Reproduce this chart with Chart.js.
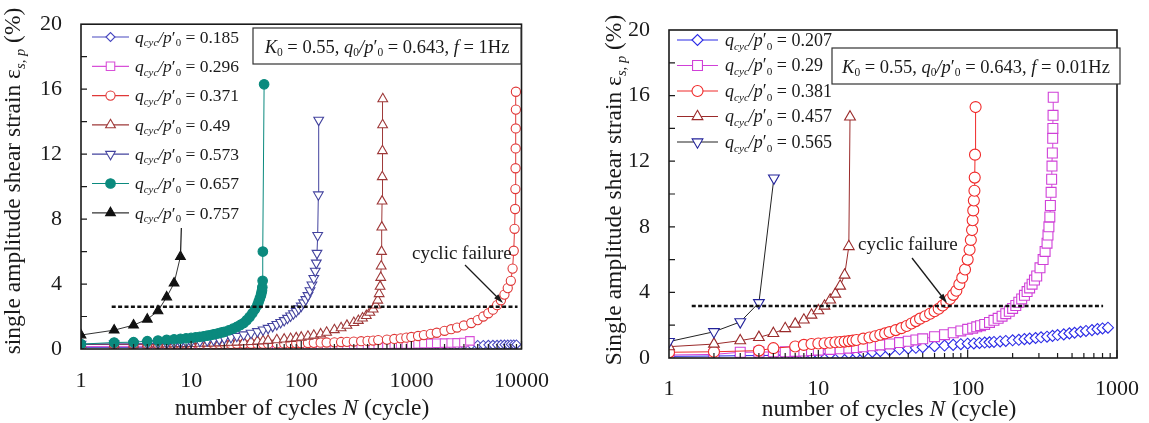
<!DOCTYPE html>
<html>
<head>
<meta charset="utf-8">
<script src="https://cdn.jsdelivr.net/npm/chart.js@4.4.0/dist/chart.umd.min.js"></script>
<style>
html, body { margin: 0; padding: 0; background: #fff; }
#wrapA { position: absolute; left: 0; top: 0; width: 560px; height: 423px; }
#wrapB { position: absolute; left: 580px; top: 0; width: 569px; height: 423px; }
</style>
</head>
<body>
<div id="wrapA"><canvas id="chartA"></canvas></div>
<div id="wrapB"><canvas id="chartB"></canvas></div>
<script>
// tick labels
var ticksXA = [1, 10, 100, 1000, 10000];
var ticksXB = [1, 10, 100, 1000];
var ticksY = [0, 4, 8, 12, 16, 20];

// left panel, f = 1 Hz : q_cyc/p'0 values
var ratiosA = ["0.185", "0.296", "0.371", "0.49", "0.573", "0.657", "0.757"];

var nA185 = [1,2,3,4,5,6,7,8,9,10,12,14,16,18,20,23,26,30,35,40,45,50,60,70,80,90,100,115,130,150,170,200,230,260,300,350,400,450,500,600,700,800,900,1000,1150,1300,1500,1700,2000,2300,2600,3000,3500,4000,4500,5000,5500,6000,6500,7000,7500,8000,8500,9000];
var eA185 = [0.10,0.10,0.10,0.11,0.11,0.11,0.11,0.12,0.12,0.12,
  0.12,0.12,0.13,0.13,0.13,0.13,0.14,0.14,0.14,0.14,0.15,0.15,
  0.15,0.15,0.16,0.16,0.16,0.16,0.17,0.17,0.17,0.18,0.18,0.18,0.19,0.19,0.19,0.2,0.2,
  0.2,0.21,0.21,0.21,0.22,0.22,0.22,0.23,0.23,0.23,0.24,0.24,0.24,0.25,0.25,0.25,0.26,0.26,0.26,0.27,0.27,0.27,0.28,0.28,0.28];

var nA296 = [1,2,3,4,5,6,7,8,9,10,12,14,16,18,20,23,26,30,35,40,45,50,60,70,80,90,100,115,130,150,170,200,230,260,300,350,400,450,500,600,700,800,900,1000,1150,1300,1500,1700,2000,2300,2600,3000,3400];
var eA296 = [0.15,0.16,0.16,0.17,0.17,0.17,0.18,0.18,0.18,0.18,
  0.19,0.19,0.19,0.2,0.2,0.2,0.2,0.21,0.21,0.21,0.21,0.22,
  0.22,0.22,0.23,0.23,0.23,0.24,0.24,0.24,0.25,0.25,0.26,0.26,0.27,0.27,0.28,0.28,0.29,
  0.29,0.3,0.3,0.31,0.31,0.32,0.33,0.34,0.35,0.36,0.37,0.38,0.4,0.5];

var nA371 = [1,2,3,4,5,6,7,8,9,10,12,14,16,18,20,23,26,30,35,40,45,50,60,70,80,90,100,115,130,150,170,200,230,260,300,350,400,450,500,600,700,800,900,1000,1150,1300,1500,1700,2000,2300,2600,3000,3500,4000,4500,5000,5500,6000,6500,7000,7500,8000,8300,8500,8650,8750,8800,8830,8850,8870,8890,8900];
var eA371 = [0.28,0.28,0.28,0.29,0.29,0.29,0.29,0.3,0.3,0.3,
  0.3,0.3,0.31,0.31,0.31,0.31,0.32,0.32,0.32,0.33,0.33,0.33,
  0.34,0.34,0.35,0.35,0.36,0.37,0.38,0.39,0.4,0.41,0.43,0.44,0.46,0.48,0.5,0.52,0.55,
  0.58,0.62,0.66,0.7,0.74,0.8,0.86,0.93,1.0,1.12,1.22,1.32,1.45,1.6,1.78,2.0,2.2,2.42,2.7,3.0,3.35,3.75,4.2,
  4.95,6.05,7.4,8.62,9.85,11.13,12.35,13.58,14.74,15.84];

var nA49 = [1,2,3,4,5,6,7,8,9,10,12,14,16,18,20,23,26,30,35,40,45,50,60,70,80,90,100,115,130,150,170,200,230,260,300,330,360,390,420,450,475,495,510,520,527,532,536,539,542,544,546,548,550];
var eA49 = [0.28,0.29,0.29,0.3,0.3,0.31,0.31,0.32,0.32,0.33,
  0.34,0.35,0.36,0.37,0.38,0.4,0.41,0.43,0.45,0.48,0.5,0.52,
  0.56,0.6,0.64,0.68,0.72,0.78,0.84,0.92,1.02,1.18,1.3,1.45,1.62,
  1.75,1.9,2.05,2.25,2.45,2.7,3.0,3.4,3.85,4.4,5.1,6.0,7.5,9.1,10.6,12.2,13.8,15.4];

var nA573 = [1,2,3,4,5,6,7,8,9,10,12,14,16,18,20,23,26,30,35,40,45,50,55,60,65,70,75,80,85,90,95,100,105,110,115,120,125,130,134,137,139,141,143,144];
var eA573 = [0.3,0.31,0.32,0.33,0.35,0.36,0.38,0.4,0.42,0.44,
  0.48,0.52,0.56,0.6,0.65,0.72,0.79,0.88,0.98,1.08,1.18,1.28,
  1.4,1.52,1.64,1.76,1.9,2.04,2.18,2.32,2.48,2.65,2.85,3.05,3.3,3.6,3.95,4.35,4.8,5.3,5.9,7.0,9.5,14.1];

var nA657 = [1,2,3,4,5,6,7,8,9,10,11,12,13,14,15,16,17,18,19,20,22,24,26,28,30,32,34,36,38,40,41,42,43,43.5,44,44.3,44.6,44.8,46];
var eA657 = [0.3,0.4,0.42,0.48,0.52,0.56,0.6,0.63,0.66,0.68,
  0.72,0.75,0.78,0.82,0.86,0.9,0.94,0.98,1.02,1.06,
  1.15,1.25,1.36,1.48,1.6,1.78,1.98,2.2,2.45,2.7,
  2.9,3.1,3.3,3.45,3.6,3.8,4.2,6.0,16.3];

var nA757 = [1,2,3,4,5,6,7,8];
var eA757 = [0.86,1.16,1.47,1.83,2.34,3.2,4.05,5.69];

// pointer from the 0.757 label down to its last point
var nPtrA = [8.15, 8];
var ePtrA = [7.45, 5.69];

// cyclic failure line, left
var nFailA = [1.9, 9200];
var eFailA = [2.6, 2.6];

// right panel, f = 0.01 Hz
var ratiosB = ["0.207", "0.29", "0.381", "0.457", "0.565"];

var nB207 = [1,2,3,4,5,6,7,8,9,10,12,14,16,18,20,23,26,30,35,40,45,50,60,70,80,90,
  100,110,120,130,140,150,165,180,200,220,240,260,285,310,340,370,400,440,480,520,570,620,680,740,800,870];
var eB207 = [0.1,0.12,0.14,0.15,0.16,0.17,0.18,0.2,0.22,0.23,
  0.25,0.27,0.29,0.31,0.33,0.37,0.42,0.48,0.53,0.58,0.62,0.66,
  0.72,0.76,0.8,0.84,
  0.87,0.89,0.92,0.94,0.96,0.98,1.01,1.04,1.08,1.11,1.15,1.18,1.22,1.26,1.3,1.35,1.4,1.44,1.5,1.54,1.6,1.65,1.7,1.76,1.8,1.85];

var nB29 = [1,2,3,4,5,6,7,8,9,10,12,14,16,18,20,23,26,30,35,40,45,50,60,70,80,90,
  100,108,115,122,130,140,150,160,170,180,190,200,210,220,230,240,250,260,270,280,290,
  305,320,330,340,345,350,355,358,362,365,367,369,371,372,373,374];
var eB29 = [0.18,0.22,0.35,0.36,0.37,0.38,0.4,0.42,0.45,0.48,
  0.52,0.56,0.6,0.64,0.68,0.74,0.8,0.86,0.94,1.02,1.1,1.17,
  1.3,1.42,1.54,1.65,
  1.75,1.82,1.9,1.97,2.05,2.17,2.3,2.42,2.55,2.7,2.85,3.02,3.2,3.4,3.6,3.82,4.05,4.27,4.5,4.75,5.0,
  5.5,6.0,6.5,7.0,7.5,8.0,8.6,9.3,10.1,10.9,11.7,12.5,13.4,14.0,14.8,15.9];

var nB381 = [1,2,4,5,7,8,9,10,11,12,13,14,15,16,17,18,20,22,24,26,28,30,33,36,39,42,45,48,52,56,60,64,68,72,76,80,84,88,92,96,100,103,105,107,108,109,110,111,111.5,112,113];
var eB381 = [0.35,0.38,0.45,0.6,0.7,0.8,0.85,0.88,
  0.9,0.93,0.96,0.98,1.0,1.03,1.06,1.1,
  1.18,1.25,1.33,1.42,1.5,1.58,
  1.7,1.82,1.95,2.1,2.25,2.4,
  2.55,2.7,2.85,3.0,3.2,3.4,3.6,3.85,4.1,4.5,4.9,5.4,6.0,
  6.6,7.2,7.8,8.4,9.0,9.6,10.2,11.0,12.4,15.3];

var nB457 = [1,2,3,4,5,6,7,8,9,10,11,12,13,14,15,16,16.3];
var eB457 = [0.69,0.85,1.06,1.26,1.5,1.8,2.07,2.32,2.62,2.89,3.17,3.54,3.9,4.39,5.06,6.8,14.7];

var nB565 = [1,2,3,4,5.04];
var eB565 = [1.0,1.6,2.2,3.37,10.97];

var nFailB = [1.42, 807];
var eFailB = [3.17, 3.17];

var serif = '"Liberation Serif", "Times New Roman", serif';

// rich text: parts with italic / subscript flags
var fontFor = function(p, size) {
    var s = p.sub ? size * 0.62 : size;
    return (p.i ? "italic " : "") + s + "px " + serif;
};
var richWidth = function(ctx, parts, size) {
    var w = 0;
    parts.forEach(function(p) {
        ctx.font = fontFor(p, size);
        w += ctx.measureText(p.t).width;
    });
    return w;
};
var drawRich = function(ctx, parts, x, y, size, align) {
    ctx.save();
    ctx.textAlign = "left";
    ctx.textBaseline = "alphabetic";
    ctx.fillStyle = "#1a1a1a";
    var cx = align === "center" ? x - richWidth(ctx, parts, size) / 2 : x;
    parts.forEach(function(p) {
        ctx.font = fontFor(p, size);
        ctx.fillText(p.t, cx, y + (p.sub ? size * 0.2 : 0));
        cx += ctx.measureText(p.t).width;
    });
    ctx.restore();
};

var ratioText = function(v) {
    return [{t: "q", i: 1}, {t: "cyc", i: 1, sub: 1}, {t: "/", i: 1}, {t: "p", i: 1},
        {t: "\u2032"}, {t: "0", sub: 1}, {t: " = " + v}];
};
var infoText = function(freq) {
    return [{t: "K", i: 1}, {t: "0", sub: 1}, {t: " = 0.55, "}, {t: "q", i: 1}, {t: "0", sub: 1},
        {t: "/", i: 1}, {t: "p", i: 1}, {t: "\u2032"}, {t: "0", sub: 1}, {t: " = 0.643, "},
        {t: "f", i: 1}, {t: " = " + freq + "Hz"}];
};

var arrow = function(ctx, x0, y0, x1, y1) {
    var ang = Math.atan2(y1 - y0, x1 - x0);
    ctx.beginPath();
    ctx.moveTo(x0, y0);
    ctx.lineTo(x1 - 6 * Math.cos(ang), y1 - 6 * Math.sin(ang));
    ctx.stroke();
    ctx.beginPath();
    ctx.moveTo(x1, y1);
    ctx.lineTo(x1 - 10 * Math.cos(ang - 0.3), y1 - 10 * Math.sin(ang - 0.3));
    ctx.lineTo(x1 - 10 * Math.cos(ang + 0.3), y1 - 10 * Math.sin(ang + 0.3));
    ctx.closePath();
    ctx.fill();
};

var decoPlugin = {
    id: "deco",
    afterDraw: function(chart, args, o) {
        var ctx = chart.ctx, a = chart.chartArea;
        var xs = chart.scales.x, ys = chart.scales.y;
        ctx.save();
        ctx.strokeStyle = "#1a1a1a";
        ctx.fillStyle = "#1a1a1a";

        // inward ticks
        ctx.lineWidth = 1.2;
        ctx.beginPath();
        for (var v = 2; v < 20; v += 2) {
            var py = ys.getPixelForValue(v);
            ctx.moveTo(a.left, py);
            ctx.lineTo(a.left + 6, py);
        }
        for (var d = 1; d < o.xMax; d *= 10) {
            for (var k = 2; k <= 10; k++) {
                var px = xs.getPixelForValue(d * k);
                ctx.moveTo(px, a.bottom);
                ctx.lineTo(px, a.bottom - (k === 10 ? 8 : 5));
            }
        }
        ctx.stroke();

        // frame
        ctx.lineWidth = 1.6;
        ctx.strokeRect(a.left, a.top, a.right - a.left, a.bottom - a.top);

        // legend
        chart.data.datasets.forEach(function(ds, i) {
            if (!ds.qLabel) return;
            var y = o.legY + i * o.legDy;
            ctx.strokeStyle = ds.borderColor;
            ctx.lineWidth = 1.2;
            ctx.beginPath();
            ctx.moveTo(o.legX0, y);
            ctx.lineTo(o.legX1, y);
            ctx.stroke();
            ctx.strokeStyle = ds.pointBorderColor;
            ctx.fillStyle = ds.pointBackgroundColor;
            ctx.lineWidth = ds.pointBorderWidth;
            Chart.helpers.drawPoint(ctx, {pointStyle: ds.pointStyle, rotation: ds.pointRotation,
                radius: ds.pointRadius, borderWidth: ds.pointBorderWidth}, (o.legX0 + o.legX1) / 2, y);
            drawRich(ctx, ratioText(ds.qLabel), o.legText, y + o.legSize * 0.33, o.legSize);
        });

        // info box
        ctx.fillStyle = "#fff";
        ctx.fillRect(o.box[0], o.box[1], o.box[2], o.box[3]);
        ctx.strokeStyle = "#333";
        ctx.lineWidth = 1.2;
        ctx.strokeRect(o.box[0], o.box[1], o.box[2], o.box[3]);
        drawRich(ctx, infoText(o.freq), o.box[0] + o.box[2] / 2, o.box[1] + o.box[3] / 2 + 6.5, 18.5, "center");

        // cyclic failure note
        ctx.font = "19px " + serif;
        ctx.fillStyle = "#1a1a1a";
        ctx.fillText("cyclic failure", o.failText[0], o.failText[1]);
        ctx.strokeStyle = "#1a1a1a";
        ctx.lineWidth = 1.3;
        arrow(ctx, o.arrow[0], o.arrow[1], o.arrow[2], o.arrow[3]);

        // pointer line
        if (o.ptr) {
            ctx.lineWidth = 1.2;
            ctx.beginPath();
            ctx.moveTo(xs.getPixelForValue(o.ptr.n[0]), ys.getPixelForValue(o.ptr.e[0]));
            ctx.lineTo(xs.getPixelForValue(o.ptr.n[1]), ys.getPixelForValue(o.ptr.e[1]));
            ctx.stroke();
        }

        // axis titles
        drawRich(ctx, [{t: "number of cycles "}, {t: "N", i: 1}, {t: " (cycle)"}], o.xTitle[0], o.xTitle[1], 23.5, "center");
        ctx.save();
        ctx.translate(o.yTitle[0], o.yTitle[1]);
        ctx.rotate(-Math.PI / 2);
        drawRich(ctx, [{t: o.yWord + " amplitude shear strain \u03b5"}, {t: "s, p", i: 1, sub: 1}, {t: " (%)"}], 0, 0, 23.5, "center");
        ctx.restore();

        ctx.restore();
    }
};

var pts = function(n, e) {
    return n.map(function(v, i) { return {x: v, y: e[i]}; });
};

var series = function(label, n, e, st) {
    return {
        qLabel: label,
        data: pts(n, e),
        showLine: true,
        borderColor: st.line || st.color,
        borderWidth: 1,
        pointStyle: st.shape,
        pointRotation: st.rot || 0,
        pointRadius: st.r,
        pointBorderColor: st.color,
        pointBackgroundColor: st.fill || "#fff",
        pointBorderWidth: 1.1
    };
};

var tickFont = {family: serif, size: 22};

var makeChart = function(id, sets, failN, failE, xMax, xTicks, deco) {
    var ds = sets.map(function(s, i) { s.order = sets.length - i + 1; return s; });
    ds.push({data: pts(failN, failE), showLine: true, borderColor: "#111", borderWidth: 2.6,
        borderDash: [4, 2.4], pointRadius: 0, order: 0});
    return new Chart(document.getElementById(id), {
        type: "scatter",
        data: {datasets: ds},
        options: {
            responsive: true,
            maintainAspectRatio: false,
            animation: false,
            layout: {padding: {left: 0, right: deco.padR, top: deco.padT, bottom: 0}},
            plugins: {legend: {display: false}, tooltip: {enabled: false}, deco: deco},
            scales: {
                x: {
                    type: "logarithmic", min: 1, max: xMax,
                    afterBuildTicks: function(s) { s.ticks = xTicks.map(function(v) { return {value: v}; }); },
                    afterFit: function(s) { s.height = deco.xH; },
                    ticks: {callback: function(v) { return String(v); }, autoSkip: false, maxRotation: 0,
                        padding: deco.xPad, color: "#1a1a1a", font: tickFont},
                    grid: {display: false},
                    border: {display: false}
                },
                y: {
                    min: 0, max: 20,
                    afterBuildTicks: function(s) { s.ticks = ticksY.map(function(v) { return {value: v}; }); },
                    afterFit: function(s) { s.width = deco.yW; },
                    ticks: {padding: 11, color: "#1a1a1a", font: tickFont},
                    grid: {display: false},
                    border: {display: false}
                }
            }
        },
        plugins: [decoPlugin]
    });
};

makeChart("chartA", [
    series(ratiosA[0], nA185, eA185, {color: "#4848c0", shape: "rectRot", r: 4.5}),
    series(ratiosA[1], nA296, eA296, {color: "#d850d8", shape: "rect", r: 6}),
    series(ratiosA[2], nA371, eA371, {color: "#e03838", shape: "circle", r: 4.6}),
    series(ratiosA[3], nA49, eA49, {color: "#9e3838", shape: "triangle", r: 5.6}),
    series(ratiosA[4], nA573, eA573, {color: "#43439e", shape: "triangle", rot: 180, r: 5.6}),
    series(ratiosA[5], nA657, eA657, {color: "#0b8a7e", fill: "#0b8a7e", shape: "circle", r: 4.8}),
    series(ratiosA[6], nA757, eA757, {color: "#111", line: "#333", fill: "#111", shape: "triangle", r: 5.6})
], nFailA, eFailA, 10000, ticksXA, {
    xMax: 10000, padR: 31, padT: 22, xH: 74, yW: 81, xPad: 11,
    legY: 37, legDy: 29.3, legX0: 92, legX1: 129, legText: 135, legSize: 17.5,
    box: [253, 28, 268, 36], freq: "1",
    failText: [412, 259], arrow: [465, 265, 503, 303],
    ptr: {n: nPtrA, e: ePtrA},
    xTitle: [302, 415], yTitle: [20, 181], yWord: "single"
});

makeChart("chartB", [
    series(ratiosB[0], nB207, eB207, {color: "#2b2be6", shape: "rectRot", r: 5.5}),
    series(ratiosB[1], nB29, eB29, {color: "#d040d8", shape: "rect", r: 7}),
    series(ratiosB[2], nB381, eB381, {color: "#f02a2a", shape: "circle", r: 5.5}),
    series(ratiosB[3], nB457, eB457, {color: "#9a2a2a", shape: "triangle", r: 6.2}),
    series(ratiosB[4], nB565, eB565, {color: "#22229a", line: "#222", shape: "triangle", rot: 180, r: 6.2})
], nFailB, eFailB, 1000, ticksXB, {
    xMax: 1000, padR: 29, padT: 30, xH: 65, yW: 89, xPad: 10,
    legY: 40, legDy: 25.5, legX0: 97, legX1: 138, legText: 145, legSize: 18,
    box: [252, 48, 288, 36], freq: "0.01",
    failText: [278, 250], arrow: [332, 258, 367, 303],
    ptr: null,
    xTitle: [309, 416], yTitle: [41, 190], yWord: "Single"
});
</script>
</body>
</html>
